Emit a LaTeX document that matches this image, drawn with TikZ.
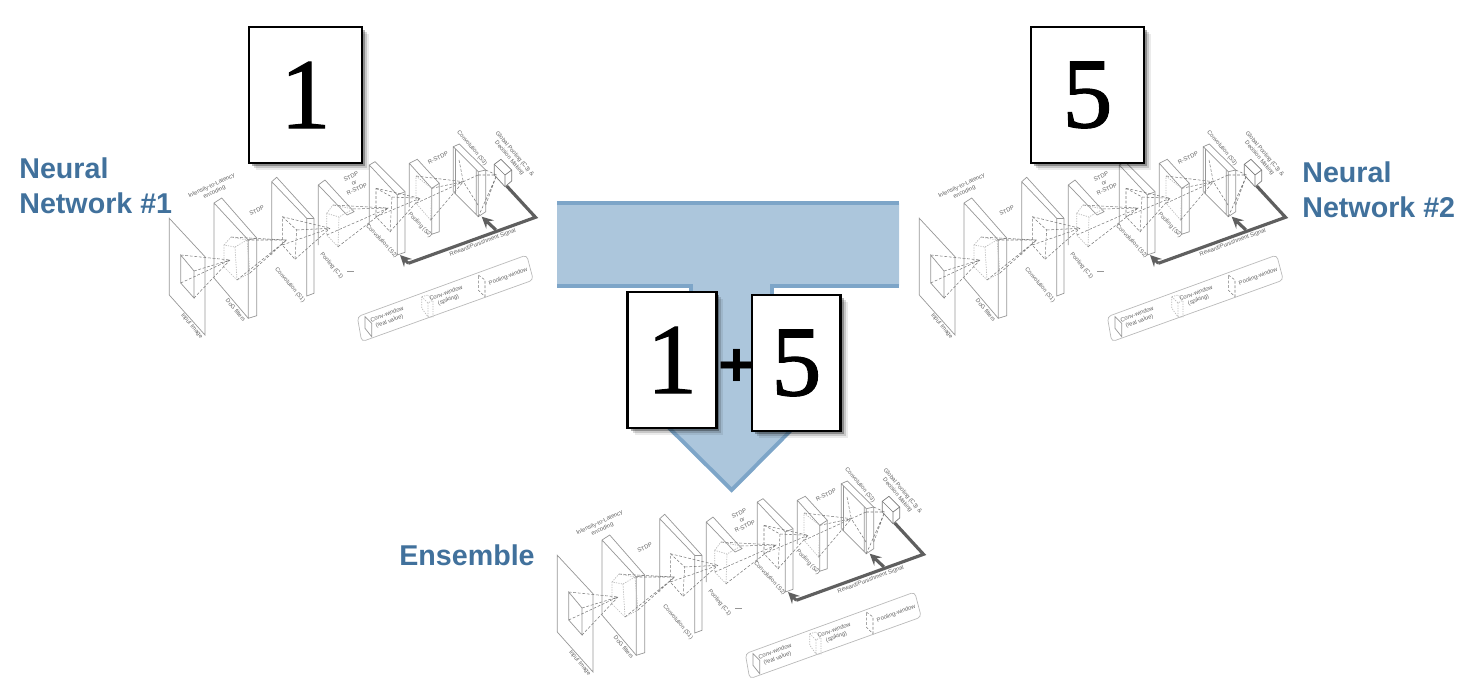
\documentclass[tikz,border=0pt]{standalone}
\usepackage{fontspec}
\setmainfont{Liberation Sans}
\newfontfamily\cardfont[FakeBold=1.2]{Liberation Serif}
\usepackage{xcolor}
\usetikzlibrary{arrows,shadows}
\definecolor{nnblue}{RGB}{65,113,156}
\definecolor{nnfill}{RGB}{172,198,220}
\definecolor{nnedge}{RGB}{125,165,200}
\definecolor{nngray}{RGB}{150,150,150}
\definecolor{nnlight}{RGB}{185,185,185}
\definecolor{nnline}{RGB}{120,120,120}
\definecolor{nndark}{RGB}{95,95,95}
\tikzset{
  plate/.style={draw=nngray, line width=.4pt},
  conv/.style={draw=nnline, line width=.3pt, dash pattern=on 1.6pt off 1pt},
  pool/.style={draw=nnlight, line width=.4pt, dash pattern=on .7pt off .7pt},
  small/.style={inner sep=0pt, align=center, text=nndark, font=\fontsize{3.3}{3.9}\selectfont},
  signal/.style={draw=nndark, line width=1.8pt},
  netlabel/.style={anchor=west, inner sep=0pt, align=left, text=nnblue, font=\fontsize{16.3}{19.8}\selectfont\bfseries},
  card/.style={draw=black, fill=white, line width=1.5pt, minimum width=2.26cm, minimum height=2.72cm, inner sep=0pt,
    font=\cardfont\fontsize{57}{57}\selectfont,
    drop shadow={shadow xshift=.14cm, shadow yshift=-.14cm, fill=black, opacity=.08},
    drop shadow={shadow xshift=.1cm, shadow yshift=-.1cm, fill=black, opacity=.15},
    drop shadow={shadow xshift=.06cm, shadow yshift=-.06cm, fill=black, opacity=.3}},
  sumcard/.style={card, minimum width=1.77cm},
  snnet/.pic={
    % Input image
    \draw[plate] (169.3,218.3) -- (205,256.7) -- (205,335) -- (169.3,295) -- cycle;
    \draw[plate] (180.7,255) -- (194,271) -- (194,298) -- (180.7,283) -- cycle;
    \draw[conv] (180.7,255) -- (230,260) (194,271) -- (230,260) (194,298) -- (230,260) (180.7,283) -- (230,260);
    % DoG filters
    \draw[plate] (214,278) -- (214,203) -- (221.7,198) -- (256.7,238) -- (256.7,315.7) -- (248.3,318.3) -- (248.3,240) -- (214,203);
    \draw[plate] (248.3,240) -- (256.7,238) (214,278) -- (248.3,318.3);
    \draw[pool] (224,245) -- (231,237) -- (247,240) -- (235,247) -- cycle (224,245) -- (224,267) -- (237,280) -- (250,273) -- (247,240) (235,247) -- (237,280);
    \draw[conv] (231,237) -- (286.7,240) (247,240) -- (286.7,240) (250,273) -- (286.7,240) (237,280) -- (286.7,240);
    % Convolution (S1)
    \draw[plate] (271.7,255) -- (271.7,181.7) -- (276.7,177.3) -- (314,218.3) -- (314,293.3) -- (306.7,296) -- (306.7,218.3) -- (271.7,181.7);
    \draw[plate] (306.7,218.3) -- (314,218.3);
    \draw[conv] (282.3,216.7) -- (296.7,230) -- (295,259.3) -- (282.3,245) -- cycle;
    \draw[conv] (282.3,216.7) -- (330,228.3) (296.7,230) -- (330,228.3) (295,259.3) -- (330,228.3) (282.3,245) -- (330,228.3);
    % Pooling (C1)
    \draw[plate] (318.3,245) -- (318.3,185) -- (325,180) -- (354,211.7) -- (347,215) -- (318.3,185);
    \draw[plate] (347,271.5) -- (354,271.5);
    \draw[pool] (326.7,213.3) -- (333,205) -- (353,209) -- (339,217) -- cycle (326.7,213.3) -- (326.7,235) -- (338,246.7) -- (339,217);
    \draw[conv] (333,205) -- (388.3,208) (353,209) -- (388.3,208) (338,246.7) -- (388.3,208) (326.7,235) -- (388.3,208);
    % Convolution (S2)
    \draw[plate] (369.3,225) -- (369.3,165) -- (375,161.7) -- (405,191.7) -- (405,252.3) -- (397.3,255) -- (397.3,195) -- (369.3,165);
    \draw[plate] (397.3,195) -- (405,191.7);
    \draw[conv] (376,188.3) -- (392,197) -- (390,231.7) -- (376,216.7) -- cycle;
    \draw[conv] (376,188.3) -- (420,198.3) (392,197) -- (420,198.3) (390,231.7) -- (420,198.3) (376,216.7) -- (420,198.3);
    % Pooling (S2)
    \draw[plate] (409.3,207) -- (409.3,163.3) -- (417.3,159.3) -- (439.3,183.3) -- (439.3,231.7) -- (431.7,234.3) -- (431.7,188.3) -- (409.3,163.3);
    \draw[plate] (431.7,188.3) -- (439.3,183.3);
    \draw[pool] (416,176) -- (431.7,188.3) -- (430.7,220) -- (416,203.3) -- cycle;
    \draw[conv] (416,176) -- (463.3,181.7) (431.7,188.3) -- (463.3,181.7) (430.7,220) -- (463.3,181.7) (416,203.3) -- (463.3,181.7);
    % Convolution (S3)
    \draw[plate] (453.3,191.7) -- (453.3,146.7) -- (459.3,144) -- (485.7,170) -- (485.7,211.7) -- (478.3,216.7) -- (478.3,171.7) -- (453.3,146.7);
    \draw[plate] (478.3,171.7) -- (485.7,170) (453.3,191.7) -- (478.3,216.7) (455.5,149) -- (455.5,194) (476.3,170) -- (476.3,214.5);
    \draw[conv] (478,175) -- (496.7,175) (485.7,170) -- (496.7,175) (478.3,216.7) -- (496.7,175) (485.7,205) -- (496.7,175);
    \draw[conv] (459,160) -- (463.3,181.7) (478,175) -- (463.3,181.7) (478,205) -- (463.3,181.7);
    % Global pooling box
    \draw[plate, draw=nnline] (494.3,164.3) -- (501,159.3) -- (511.7,170) -- (511.7,181) -- (505,186.7) -- (494.3,175) -- cycle;
    \draw[plate, draw=nnline] (494.3,164.3) -- (505,175) -- (511.7,170) (505,175) -- (505,186.7);
    % Signal
    \coordinate (-box) at (506.7,186);
    \coordinate (-corner) at (535.5,217.3);
    \coordinate (-low) at (408.3,263.3);
    \coordinate (-branch) at (496,230);
    \coordinate (-convb) at (400,255);
    \coordinate (-convc) at (481.7,216.7);
    \draw[signal] (-box) -- (-corner) -- (-low);
    \draw[signal, ->, >=stealth] (-low) -- (-convb);
    \draw[signal, ->, >=stealth] (-branch) -- (-convc);
    % Legend
    \draw[plate, draw=nnlight, rounded corners=2.2pt] (357.3,316.7) -- (526.7,255) -- (533.3,280) -- (361.7,341.7) -- cycle;
    \draw[plate] (365,316.7) -- (371.7,323.3) -- (371.7,336.7) -- (365,328.3) -- cycle;
    \draw[pool] (421.7,296.7) -- (428,295) -- (433,300) -- (433,317) -- (428,317) -- (421.7,308) -- cycle (421.7,296.7) -- (428,303) -- (433,300) (428,303) -- (428,317);
    \draw[conv] (478.3,275) -- (485,280) -- (485,296.7) -- (478.3,290) -- cycle;
    % Labels
    \node[small, rotate=25] (-encoding) at (213,189) {Intensity-to-Latency\\encoding};
    \node[small, rotate=25] (-stdpa) at (256.7,210.7) {STDP};
    \node[small, rotate=25] (-stdpb) at (354,183) {STDP\\or\\R-STDP};
    \node[small, rotate=25] (-rstdp) at (438,158) {R-STDP};
    \node[small, rotate=-50] (-input) at (191.7,326) {Input Image};
    \node[small, rotate=-50] (-dog) at (235.7,310) {DoG filters};
    \node[small, rotate=-50] (-sone) at (290,285) {Convolution (S1)};
    \node[small, rotate=-50] (-cone) at (331.7,265.7) {Pooling (C1)};
    \node[small, rotate=-47] (-stwo) at (381.7,241) {Convolution (S2)};
    \node[small, rotate=-47] (-ctwo) at (420,225) {Pooling (S2)};
    \node[small, rotate=-50] (-sthree) at (472,148) {Convolution (S3)};
    \node[small, rotate=-50] (-global) at (512,156) {Global Pooling (C3) \&\\Decision Making};
    \node[small, rotate=20] (-reward) at (482.7,242.7) {Reward/Punishment Signal};
    \node[small, rotate=20] (-real) at (388.3,318) {Conv-window\\(real value)};
    \node[small, rotate=20] (-spiking) at (447.3,296.7) {Conv-window\\(spiking)};
    \node[small, rotate=20] (-window) at (508.3,276.7) {Pooling-window};
  }
}

\begin{document}
\begin{tikzpicture}[x=0.02cm, y=-0.02cm]
\useasboundingbox (0,0) rectangle (1475,690);

% Merge arrow
\fill[nnfill] (557,203) -- (899,203) -- (899,285.7) -- (772.3,285.7) -- (772.3,400) -- (812,409) -- (731.7,490) -- (650,409) -- (690.7,400) -- (690.7,285.7) -- (557,285.7) -- cycle;
\draw[nnedge, line width=2.2pt] (557,203) -- (899,203);
\draw[nnedge, line width=2.2pt] (899,285.7) -- (772.3,285.7) -- (772.3,300);
\draw[nnedge, line width=2.2pt] (557,285.7) -- (690.7,285.7) -- (690.7,300);
\draw[nnedge, line width=2.2pt, line join=miter] (650,409) -- (731.7,490) -- (812,409);

% Networks
\pic (neta) at (0,0) {snnet};
\pic (netb) at (750,0) {snnet};
\pic (netc) at (388,337) {snnet};

% Labels
\node[netlabel] (labela) at (19,186) {Neural\\Network \#1};
\node[netlabel] (labelb) at (1302,190) {Neural\\Network \#2};
\node[netlabel] (labelc) at (399,555) {Ensemble};

% Cards
\node[card] (cardone) at (305.5,95) {1};
\node[card] (cardfive) at (1087.5,95) {5};
\node[sumcard] (sumone) at (672,360) {1};
\node[inner sep=0pt, font=\fontsize{36}{36}\selectfont\bfseries] (plus) at (736.7,368.3) {+};
\node[sumcard] (sumfive) at (796.4,363) {5};
\end{tikzpicture}
\end{document}
